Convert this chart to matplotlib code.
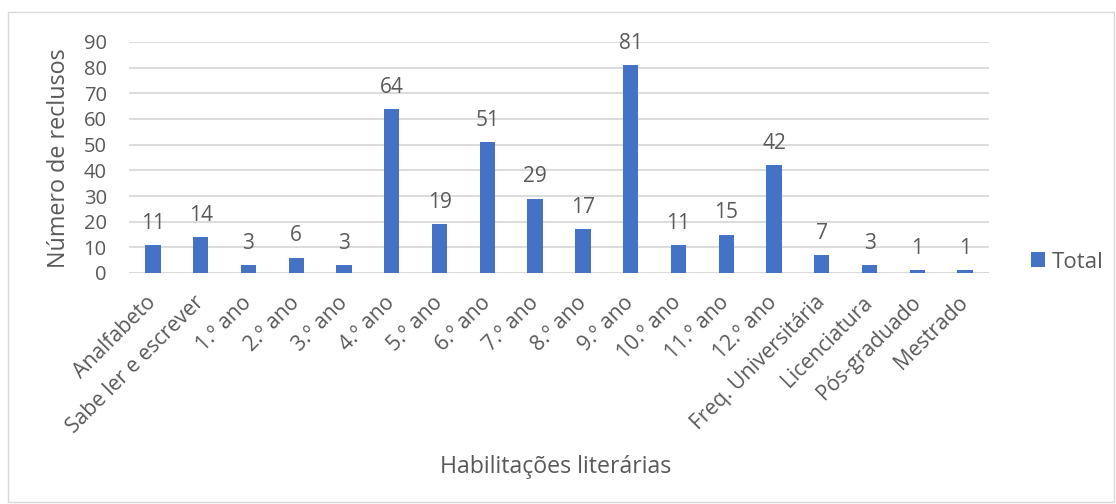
import matplotlib
matplotlib.use("Agg")
import matplotlib.pyplot as plt
from matplotlib.patches import Rectangle

categories = ["Analfabeto", "Sabe ler e escrever", "1.º ano", "2.º ano", "3.º ano",
              "4.º ano", "5.º ano", "6.º ano", "7.º ano", "8.º ano", "9.º ano",
              "10.º ano", "11.º ano", "12.º ano", "Freq. Universitária",
              "Licenciatura", "Pós-graduado", "Mestrado"]
values = [11, 14, 3, 6, 3, 64, 19, 51, 29, 17, 81, 11, 15, 42, 7, 3, 1, 1]
yticks = [0, 10, 20, 30, 40, 50, 60, 70, 80, 90]
series_name = "Total"

plt.rcParams['font.family'] = ['Open Sans', 'DejaVu Sans']
TXT = "#595959"
BAR = "#4472C4"
GRID = "#D9D9D9"

W, H = 1116, 504
fig = plt.figure(figsize=(W / 100, H / 100), dpi=100)
fig.patch.set_facecolor("white")
fig.patches.append(Rectangle((8 / W, 1 - 502 / H), 1106 / W, 490 / H,
                             transform=fig.transFigure, fill=False,
                             edgecolor=GRID, linewidth=1))

left, right, top, bottom = 129, 989, 42, 273
ax = fig.add_axes([left / W, 1 - bottom / H, (right - left) / W, (bottom - top) / H])
x = range(len(categories))
bars = ax.bar(x, values, width=0.32, color=BAR, label=series_name, zorder=3)
ax.set_xlim(-0.5, len(categories) - 0.5)
ax.set_ylim(0, 90)
ax.set_yticks(yticks)
ax.yaxis.grid(True, color=GRID, linewidth=1.3, zorder=0)
for s in ax.spines.values():
    s.set_visible(False)
ax.axhline(0, color=GRID, linewidth=1.3, zorder=2)
ax.tick_params(axis='both', length=0, colors=TXT)
ax.tick_params(axis='y', pad=16, labelsize=14.5)
ax.tick_params(axis='x', pad=19, labelsize=15.2)
ax.set_xticks(list(x))
ax.set_xticklabels(categories, rotation=45, ha='right', va='center', rotation_mode='anchor')
for xi, v in zip(x, values):
    ax.annotate(str(v), (xi, v), xytext=(0, 8), textcoords='offset points',
                ha='center', va='bottom', color=TXT, fontsize=15)

fig.text(59 / W, 1 - 158 / H, "Número de reclusos", color=TXT, fontsize=16.8,
         rotation=90, ha='center', va='center')
fig.text(556 / W, 1 - 467 / H, "Habilitações literárias", color=TXT,
         fontsize=16.7, ha='center', va='center')

leg = ax.legend(loc='center left', bbox_to_anchor=((1031 - left) / (right - left), (273 - 262) / (273 - 42)),
                bbox_transform=ax.transAxes, frameon=False, fontsize=16, borderpad=0,
                handlelength=0.65, handleheight=0.65, handletextpad=0.3, borderaxespad=0)
for t in leg.get_texts():
    t.set_color(TXT)

fig.savefig("out.png", dpi=100, facecolor="white")
